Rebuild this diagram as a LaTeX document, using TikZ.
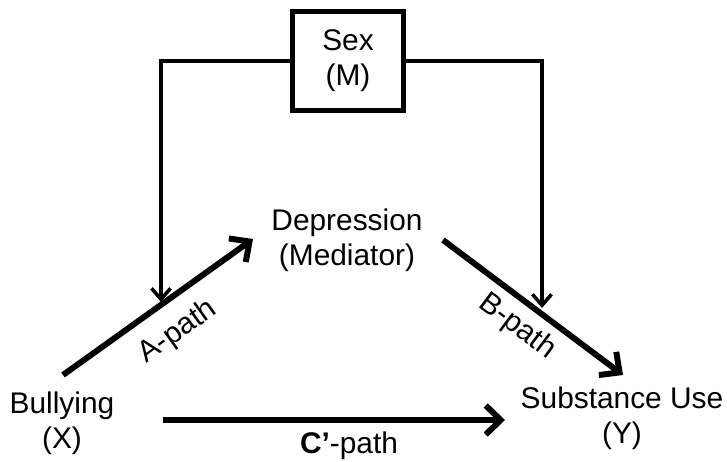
\documentclass[tikz,border=0pt]{standalone}
\usepackage{fontspec}
\setmainfont{Liberation Sans}
\usetikzlibrary{arrows.meta}

\tikzset{
	var/.style={align=center,font=\fontsize{17}{20}\selectfont,inner sep=0pt},
	pathlabel/.style={font=\fontsize{17}{20}\selectfont,inner sep=0pt},
	patharrow/.style={line width=3.4pt,-{Straight Barb[length=0.3cm,width=0.58cm]}},
	modarrow/.style={line width=2pt,-{Straight Barb[length=0.22cm,width=0.38cm]}}
}

\begin{document}
\begin{tikzpicture}[x=0.02cm,y=-0.02cm]

	\useasboundingbox (0,0) rectangle (727,461);
	
	% variables
	\node[var,draw,line width=2.8pt,minimum width=2.22cm,minimum height=1.98cm] (sex) at(348,61) {Sex\\(M)};
	\node[var] (dep) at(347,240) {Depression\\(Mediator)};
	\node[var] (bul) at(62,423) {Bullying\\(X)};
	\node[var] (sub) at(622,418) {Substance Use\\(Y)};
	
	% arrow ends
	\coordinate (a0) at(63,375);
	\coordinate (a1) at(253,239);
	\coordinate (b0) at(443,240);
	\coordinate (b1) at(623,375);
	\coordinate (c0) at(163,420);
	\coordinate (c1) at(505,420);
	\coordinate (ma) at(161,302);
	\coordinate (mb) at(542,308);
	
	\draw[patharrow] (a0) -- (a1);
	\draw[patharrow] (b0) -- (b1);
	\draw[patharrow] (c0) -- (c1);
	
	\draw[modarrow] (sex.west) -| (ma);
	\draw[modarrow] (sex.east) -| (mb);
	
	% labels
	\node[pathlabel,rotate=35.6] (alab) at(178,332) {A-path};
	\node[pathlabel,rotate=-36.9] (blab) at(517,327) {B-path};
	\node[pathlabel] (clab) at(349,446) {\textbf{C’}-path};

\end{tikzpicture}
\end{document}
